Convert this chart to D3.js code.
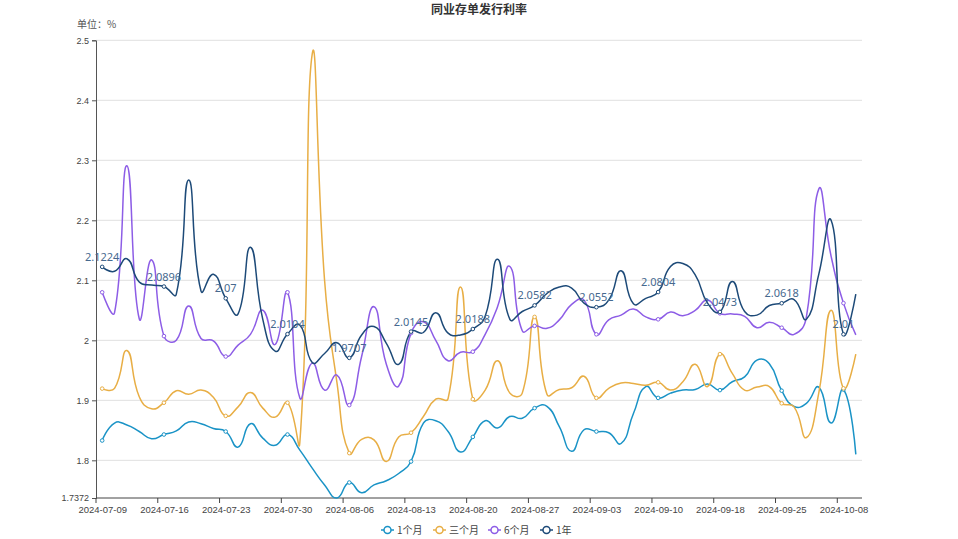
<!DOCTYPE html>
<html>
<head>
<meta charset="utf-8">
<script src="https://cdn.jsdelivr.net/npm/d3@7"></script>
<style>
  html, body { margin: 0; padding: 0; background: #fff; }
  svg { display: block; font-family: "Noto Sans", "Noto Sans CJK SC", sans-serif; }
</style>
</head>
<body>
<svg id="chart" width="958" height="539"></svg>
<script>
const dates = ["2024-07-09","2024-07-10","2024-07-11","2024-07-12","2024-07-15","2024-07-16","2024-07-17","2024-07-18","2024-07-19","2024-07-22",
"2024-07-23","2024-07-24","2024-07-25","2024-07-26","2024-07-29","2024-07-30","2024-07-31","2024-08-01","2024-08-02","2024-08-05",
"2024-08-06","2024-08-07","2024-08-08","2024-08-09","2024-08-12","2024-08-13","2024-08-14","2024-08-15","2024-08-16","2024-08-19",
"2024-08-20","2024-08-21","2024-08-22","2024-08-23","2024-08-26","2024-08-27","2024-08-28","2024-08-29","2024-08-30","2024-09-02",
"2024-09-03","2024-09-04","2024-09-05","2024-09-06","2024-09-09","2024-09-10","2024-09-11","2024-09-12","2024-09-13","2024-09-14",
"2024-09-18","2024-09-19","2024-09-20","2024-09-23","2024-09-24","2024-09-25","2024-09-26","2024-09-27","2024-09-29","2024-09-30",
"2024-10-08","2024-10-09"];

const month1 = [1.833,1.862,1.859,1.848,1.836,1.843,1.849,1.864,1.861,1.853,1.848,1.822,1.861,1.837,1.825,1.843,
1.817,1.787,1.759,1.7372,1.763,1.746,1.759,1.766,1.778,1.798,1.862,1.866,1.848,1.814,1.839,
1.866,1.854,1.873,1.870,1.887,1.890,1.856,1.815,1.851,1.848,1.846,1.828,1.878,1.923,1.904,1.912,
1.917,1.918,1.927,1.917,1.931,1.939,1.967,1.961,1.916,1.890,1.895,1.922,1.862,1.918,1.810];

const month3 = [1.9195,1.920,1.983,1.906,1.886,1.896,1.916,1.910,1.917,1.905,1.874,1.889,1.913,1.887,1.872,1.896,
1.830,2.477,2.100,1.930,1.812,1.835,1.834,1.798,1.839,1.846,1.873,1.902,1.903,2.089,1.902,
1.917,1.966,1.912,1.912,2.039,1.910,1.918,1.921,1.940,1.904,1.920,1.929,1.928,1.925,1.930,1.917,
1.931,1.960,1.923,1.977,1.945,1.917,1.922,1.923,1.895,1.889,1.838,1.912,2.050,1.920,1.977];

const month6 = [2.080,2.046,2.291,2.036,2.134,2.007,2.000,2.057,2.003,1.999,1.973,1.992,2.010,2.050,1.993,2.080,
1.904,1.962,1.917,1.942,1.892,1.973,2.056,1.960,1.924,2.012,2.031,2.000,1.966,1.980,1.981,
2.010,2.056,2.123,2.016,2.024,2.020,2.034,2.060,2.067,2.010,2.034,2.042,2.052,2.039,2.035,2.047,
2.041,2.050,2.067,2.045,2.044,2.040,2.021,2.030,2.021,2.010,2.039,2.252,2.140,2.062,2.009];

const year1 = [2.1224,2.115,2.136,2.097,2.092,2.0896,2.077,2.267,2.082,2.110,2.07,2.044,2.155,2.035,1.982,2.0104,
2.0255,1.963,1.978,1.996,1.9707,2.009,2.023,1.995,1.960,2.0145,2.013,2.046,2.012,2.009,2.0188,
2.040,2.135,2.035,2.048,2.0582,2.078,2.089,2.087,2.062,2.0552,2.067,2.116,2.061,2.070,2.0804,2.123,
2.128,2.109,2.062,2.0473,2.098,2.048,2.042,2.058,2.0618,2.068,2.035,2.110,2.200,2.01,2.077];

const seriesNames = ["1个月","三个月","6个月","1年"];
const seriesColors = ["#1a93c6","#e8ae45","#8d5de6","#1d4a78"];
const yTicks = [1.7372,1.8,1.9,2.0,2.1,2.2,2.3,2.4,2.5];
const titleText = "同业存单发行利率";
const unitText = "单位：%";

const series = [month1, month3, month6, year1].map((vals, k) => ({
  name: seriesNames[k], color: seriesColors[k], values: vals
}));

const plotLeft = 96, plotRight = 862, plotTop = 40.3, plotBottom = 498;
const svg = d3.select("#chart");

const xBand = d3.scaleBand().domain(dates).range([plotLeft, plotRight]).paddingInner(0).paddingOuter(0);
const xPt = d3.scalePoint().domain(dates).range([plotLeft, plotRight]).padding(0.5);
const y = d3.scaleLinear().domain([1.7372, 2.5]).range([plotBottom, plotTop]);

// ECharts-like smoothing curve
function SmoothCurve(context) { this._context = context; }
SmoothCurve.prototype = {
  areaStart() {}, areaEnd() {},
  lineStart() { this._pts = []; },
  point(px, py) { this._pts.push([+px, +py]); },
  lineEnd() {
    const p = this._pts, n = p.length, s = 0.5, ctx = this._context;
    if (!n) return;
    ctx.moveTo(p[0][0], p[0][1]);
    const cpA = [], cpB = [];
    for (let i = 0; i < n; i++) {
      const cur = p[i];
      if (i === 0 || i === n - 1) { cpA[i] = cur; cpB[i] = cur; continue; }
      const prev = p[i - 1], next = p[i + 1];
      const vx = next[0] - prev[0], vy = next[1] - prev[1];
      const d0 = Math.hypot(cur[0] - prev[0], cur[1] - prev[1]);
      const d1 = Math.hypot(next[0] - cur[0], next[1] - cur[1]);
      const r = (d0 + d1) ? d1 / (d0 + d1) : 0.5;
      cpB[i] = [cur[0] + vx * s * r, cur[1] + vy * s * r];
      cpA[i] = [cur[0] - vx * s * (1 - r), cur[1] - vy * s * (1 - r)];
    }
    for (let i = 1; i < n; i++) {
      ctx.bezierCurveTo(cpB[i - 1][0], cpB[i - 1][1], cpA[i][0], cpA[i][1], p[i][0], p[i][1]);
    }
  }
};
const smooth = ctx => new SmoothCurve(ctx);

// gridlines
svg.append("g").selectAll("line")
  .data(yTicks.filter(t => t !== 1.7372))
  .join("line")
  .attr("x1", plotLeft).attr("x2", plotRight)
  .attr("y1", d => y(d)).attr("y2", d => y(d))
  .attr("stroke", "#e0e0e0").attr("stroke-width", 1);

// y axis
const yAxis = svg.append("g").attr("transform", `translate(${plotLeft},0)`)
  .call(d3.axisLeft(y).tickValues(yTicks).tickSize(4).tickPadding(3)
    .tickFormat(d => String(+d.toFixed(4))));
yAxis.select(".domain").attr("stroke", "#555");
yAxis.selectAll(".tick line").attr("stroke", "#555");
yAxis.selectAll("text").attr("fill", "#444").style("font-size", "9px");

// x axis (labels at category centres, ticks at category boundaries)
const labelDates = dates.filter((d, i) => i % 5 === 0);
const xAxis = svg.append("g").attr("transform", `translate(0,${plotBottom})`)
  .call(d3.axisBottom(xPt).tickValues(labelDates).tickSize(0).tickPadding(8).tickSizeOuter(0));
xAxis.select(".domain").remove();
xAxis.selectAll("text").attr("fill", "#444").style("font-size", "9.5px");
svg.append("line").attr("x1", plotLeft).attr("x2", plotRight).attr("y1", plotBottom).attr("y2", plotBottom)
  .attr("stroke", "#444").attr("stroke-width", 1);
svg.append("g").selectAll("line").data(labelDates).join("line")
  .attr("x1", d => xBand(d)).attr("x2", d => xBand(d))
  .attr("y1", plotBottom).attr("y2", plotBottom + 5)
  .attr("stroke", "#444");

// lines
const line = d3.line().x((d, i) => xPt(dates[i])).y(d => y(d)).curve(smooth);
svg.append("g").selectAll("path").data(series).join("path")
  .attr("d", s => line(s.values))
  .attr("fill", "none")
  .attr("stroke", s => s.color)
  .attr("stroke-width", 1.5);

// symbols at every 5th point
series.forEach(s => {
  svg.append("g").selectAll("circle")
    .data(s.values.map((v, i) => ({ v, i })).filter(d => d.i % 5 === 0))
    .join("circle")
    .attr("cx", d => xPt(dates[d.i])).attr("cy", d => y(d.v))
    .attr("r", 1.8).attr("fill", "#fff").attr("stroke", s.color).attr("stroke-width", 1);
});

// labels on 1年
const ySeries = series[3];
svg.append("g").selectAll("text")
  .data(ySeries.values.map((v, i) => ({ v, i })).filter(d => d.i % 5 === 0))
  .join("text")
  .attr("x", d => xPt(dates[d.i])).attr("y", d => y(d.v) - 6)
  .attr("text-anchor", "middle")
  .attr("fill", "#46698f")
  .style("font-size", "11px")
  .text(d => String(d.v));

// title and unit
svg.append("text").attr("x", 479).attr("y", 14).attr("text-anchor", "middle")
  .style("font-family", "'Noto Sans CJK SC', sans-serif")
  .style("font-size", "12px").style("font-weight", "bold").attr("fill", "#333")
  .text(titleText);
svg.append("text").attr("x", 77).attr("y", 28)
  .style("font-family", "'Noto Sans CJK SC', sans-serif")
  .style("font-size", "10px").attr("fill", "#555").text(unitText);

// legend
const legendX = [381, 433, 488, 540];
const lg = svg.append("g").selectAll("g").data(series).join("g")
  .attr("transform", (d, i) => `translate(${legendX[i]},530)`);
lg.append("line").attr("x1", 0).attr("x2", 13).attr("y1", 0).attr("y2", 0)
  .attr("stroke", d => d.color).attr("stroke-width", 1.5);
lg.append("circle").attr("cx", 6.5).attr("cy", 0).attr("r", 3.5)
  .attr("fill", "#fff").attr("stroke", d => d.color).attr("stroke-width", 1.5);
lg.append("text").attr("x", 16).attr("y", 0).attr("dy", "0.35em")
  .style("font-family", "'Noto Sans CJK SC', sans-serif")
  .style("font-size", "10px").attr("fill", "#444").text(d => d.name);
</script>
</body>
</html>
